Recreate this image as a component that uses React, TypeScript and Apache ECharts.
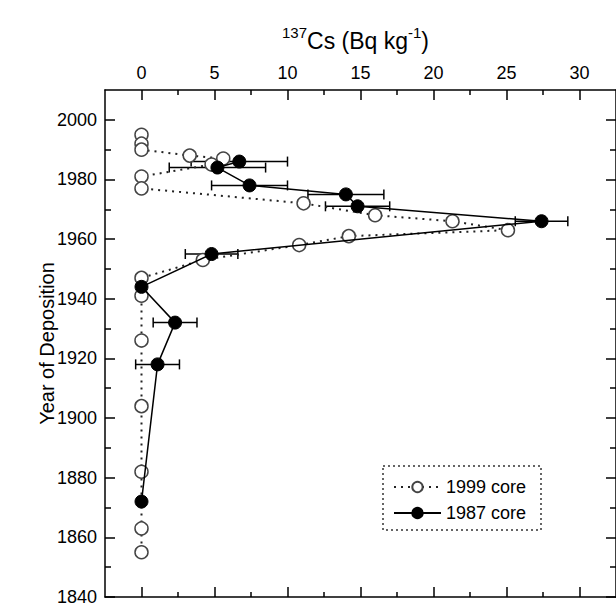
import React, { useEffect, useRef } from "react";
import * as echarts from "echarts";

// ---- data ----
const years1999 = [1995, 1992, 1990, 1988, 1987, 1985, 1981, 1977, 1972, 1968, 1966, 1963, 1961, 1958, 1953, 1947, 1941, 1926, 1904, 1882, 1863, 1855];
const cs1999 = [0, 0, 0, 3.3, 5.6, 4.8, 0, 0, 11.1, 16.0, 21.3, 25.1, 14.2, 10.8, 4.2, 0, 0, 0, 0, 0, 0, 0];

const years1987 = [1986, 1984, 1978, 1975, 1971, 1966, 1955, 1944, 1932, 1918, 1872];
const cs1987 = [6.7, 5.2, 7.4, 14.0, 14.8, 27.4, 4.8, 0, 2.3, 1.1, 0];
const err1987 = [3.3, 3.3, 2.6, 2.6, 2.2, 1.8, 1.8, 0, 1.5, 1.5, 0];

const xMajorTicks = [0, 5, 10, 15, 20, 25, 30];
const xMinorTicks = [2.5, 7.5, 12.5, 17.5, 22.5, 27.5];
const yMajorTicks = [1840, 1860, 1880, 1900, 1920, 1940, 1960, 1980, 2000];
const yMinorTicks = [1850, 1870, 1890, 1910, 1930, 1950, 1970, 1990];

const seriesNames = ["1999 core", "1987 core"];

const FONT = "'Liberation Sans', Arial, sans-serif";

export default function App() {
  const ref = useRef<HTMLDivElement>(null);

  useEffect(() => {
    document.body.style.margin = "0";
    const chart = echarts.init(ref.current!, null, { renderer: "svg" });

    const lineOn = { show: true, onZero: false, lineStyle: { color: "#000", width: 1.5 } };
    const lineOff = { show: false, onZero: false };

    const xAx = (position: string, ticks: number[], len: number, labels: boolean, line: boolean) => ({
      type: "value",
      position,
      min: -2.5,
      max: 32.5,
      axisLine: line ? lineOn : lineOff,
      splitLine: { show: false },
      axisTick: { show: true, inside: true, length: len, customValues: ticks, lineStyle: { color: "#000", width: 1.5 } },
      axisLabel: labels
        ? { show: true, customValues: xMajorTicks, fontSize: 18, color: "#000", fontFamily: FONT, margin: 8, formatter: (v: number) => String(v) }
        : { show: false },
    });
    const yAx = (position: string, ticks: number[], len: number, labels: boolean, line: boolean, name?: string) => ({
      type: "value",
      position,
      min: 1840,
      max: 2010,
      name: name,
      nameLocation: "middle",
      nameGap: 48,
      nameMoveOverlap: false,
      nameTextStyle: { fontSize: 20, color: "#000", fontFamily: FONT },
      axisLine: line ? lineOn : lineOff,
      splitLine: { show: false },
      axisTick: { show: true, inside: true, length: len, customValues: ticks, lineStyle: { color: "#000", width: 1.5 } },
      axisLabel: labels
        ? { show: true, customValues: yMajorTicks, fontSize: 18, color: "#000", fontFamily: FONT, margin: 8, formatter: (v: number) => String(v) }
        : { show: false },
    });

    const errData = years1987
      .map((y, i) => [cs1987[i] - err1987[i], cs1987[i] + err1987[i], y, err1987[i]])
      .filter((d) => d[3] > 0);

    chart.setOption({
      animation: false,
      backgroundColor: "#fff",
      title: {
        text: "{s|137}{n|Cs (Bq kg}{s|-1}{n|)}",
        left: 277,
        top: 20,
        textStyle: {
          rich: {
            n: { fontSize: 23, fontWeight: "normal", color: "#000", fontFamily: FONT, lineHeight: 27, verticalAlign: "bottom" },
            s: { fontSize: 15, fontWeight: "normal", color: "#000", fontFamily: FONT, lineHeight: 27, verticalAlign: "top" },
          },
        },
      },
      grid: { left: 105, top: 90, width: 512, height: 509, containLabel: false },
      xAxis: [
        xAx("top", xMajorTicks, 10, true, true),
        xAx("top", xMinorTicks, 5, false, false),
        xAx("bottom", xMajorTicks, 10, false, true),
        xAx("bottom", xMinorTicks, 5, false, false),
      ],
      yAxis: [
        yAx("left", yMajorTicks, 10, true, true, "Year of Deposition"),
        yAx("left", yMinorTicks, 6, false, false),
        yAx("right", yMajorTicks, 10, false, true),
        yAx("right", yMinorTicks, 6, false, false),
      ],
      legend: {
        data: seriesNames,
        orient: "vertical",
        left: 388,
        top: 473,
        itemWidth: 47,
        itemHeight: 13,
        itemGap: 8,
        textStyle: { fontSize: 18, color: "#000", fontFamily: FONT },
      },
      graphic: [
        {
          type: "rect",
          shape: { x: 383, y: 466, width: 158, height: 64 },
          style: { fill: "none", stroke: "#333", lineWidth: 1.5, lineDash: [2, 3] },
          z: 10,
        },
      ],
      series: [
        {
          type: "custom",
          name: "err",
          xAxisIndex: 0,
          yAxisIndex: 0,
          z: 2,
          encode: { x: [0, 1], y: 2 },
          data: errData,
          renderItem: (params: any, api: any) => {
            const lo = api.coord([api.value(0), api.value(2)]);
            const hi = api.coord([api.value(1), api.value(2)]);
            const st = { stroke: "#000", lineWidth: 1.5 };
            const c = 5;
            return {
              type: "group",
              children: [
                { type: "line", shape: { x1: lo[0], y1: lo[1], x2: hi[0], y2: hi[1] }, style: st },
                { type: "line", shape: { x1: lo[0], y1: lo[1] - c, x2: lo[0], y2: lo[1] + c }, style: st },
                { type: "line", shape: { x1: hi[0], y1: hi[1] - c, x2: hi[0], y2: hi[1] + c }, style: st },
              ],
            };
          },
        },
        {
          type: "line",
          name: seriesNames[0],
          xAxisIndex: 0,
          yAxisIndex: 0,
          z: 3,
          data: years1999.map((y, i) => [cs1999[i], y]),
          symbol: "circle",
          symbolSize: 13,
          lineStyle: { color: "#222", width: 2, type: [2, 5] },
          itemStyle: { color: "#fff", borderColor: "#444", borderWidth: 1.5 },
        },
        {
          type: "line",
          name: seriesNames[1],
          xAxisIndex: 0,
          yAxisIndex: 0,
          z: 4,
          data: years1987.map((y, i) => [cs1987[i], y]),
          symbol: "circle",
          symbolSize: 13,
          lineStyle: { color: "#000", width: 1.5 },
          itemStyle: { color: "#000", borderColor: "#000", borderWidth: 1 },
        },
      ],
    });

    return () => chart.dispose();
  }, []);

  return <div ref={ref} style={{ width: 616, height: 606 }} />;
}
